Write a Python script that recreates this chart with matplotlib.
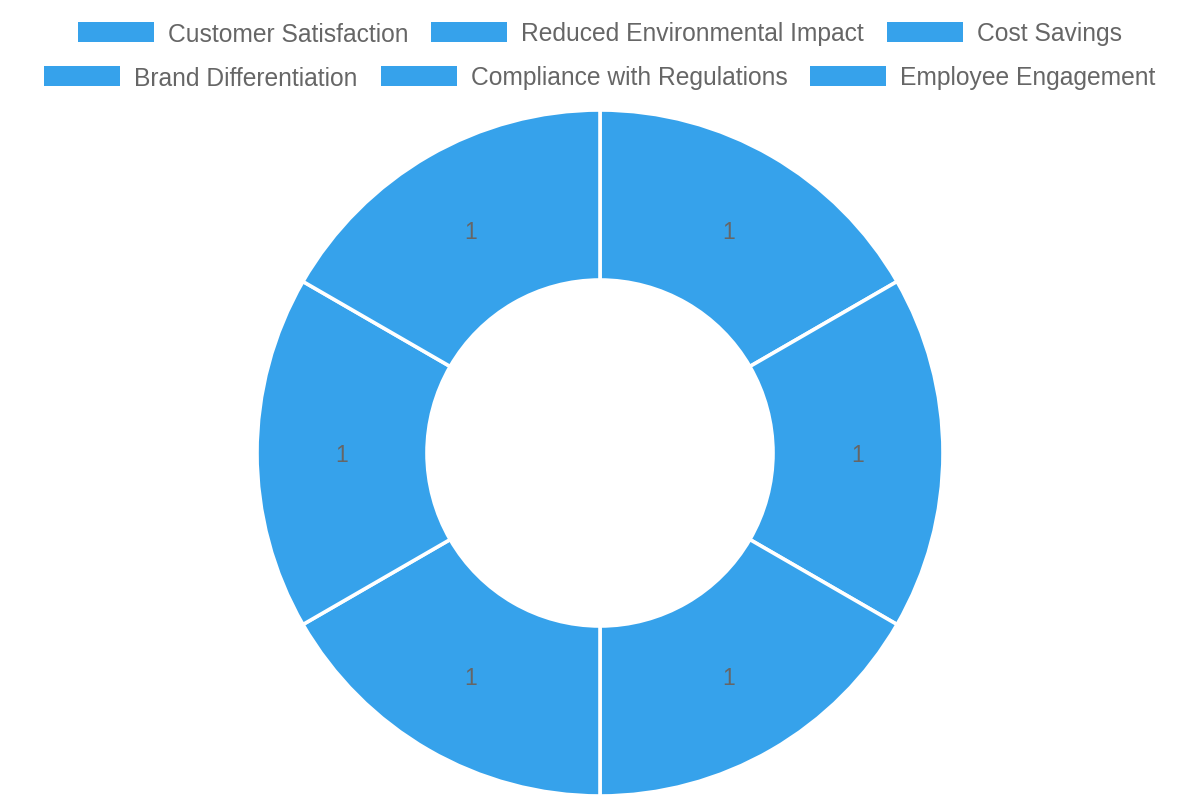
import matplotlib.pyplot as plt
from matplotlib.patches import Rectangle

plt.rcParams['font.family'] = ['Liberation Sans', 'DejaVu Sans']

# data
categories = ["Customer Satisfaction", "Reduced Environmental Impact", "Cost Savings",
              "Brand Differentiation", "Compliance with Regulations", "Employee Engagement"]
values = [1, 1, 1, 1, 1, 1]
color = "#36A2EB"
text_color = "#666666"

W, H = 1200, 800
fig = plt.figure(figsize=(12, 8), dpi=100)
ax = fig.add_axes([0, 0, 1, 1])

# donut
cx, cy = 600, H - 453
r_out, r_in = 343, 173
total = sum(values)
wedges, texts, autotexts = ax.pie(
    values, colors=[color] * len(values), startangle=90, counterclock=False,
    radius=r_out, center=(cx, cy), frame=True,
    wedgeprops=dict(width=r_out - r_in, edgecolor='white', linewidth=2.6),
    autopct=lambda p: f"{p * total / 100:.0f}", pctdistance=258 / r_out,
    textprops=dict(color=text_color, fontsize=16.5))
for t in autotexts:
    t.set_va('center_baseline')
ax.set_xlim(0, W)
ax.set_ylim(0, H)
ax.set_aspect('equal')
ax.axis('off')

# legend drawn by hand: two centred rows
rows = [categories[:3], categories[3:]]
row_y = [32, 76]
box_w, box_h, box_gap, item_gap = 76, 20, 14, 23
fs = 17.7
fig.canvas.draw()
renderer = fig.canvas.get_renderer()

def text_width(s):
    t = fig.text(0, 0, s, fontsize=fs)
    w = t.get_window_extent(renderer).width
    t.remove()
    return w

for row, y in zip(rows, row_y):
    widths = [text_width(s) for s in row]
    total_w = sum(box_w + box_gap + w for w in widths) + item_gap * (len(row) - 1)
    x = W / 2 - total_w / 2
    for s, w in zip(row, widths):
        ax.add_patch(Rectangle((x, H - y - box_h / 2), box_w, box_h,
                               facecolor=color, edgecolor='none', clip_on=False))
        ax.text(x + box_w + box_gap, H - y, s, fontsize=fs, color=text_color,
                va='center_baseline', ha='left')
        x += box_w + box_gap + w + item_gap

fig.savefig("out.png", dpi=100, facecolor='white')
